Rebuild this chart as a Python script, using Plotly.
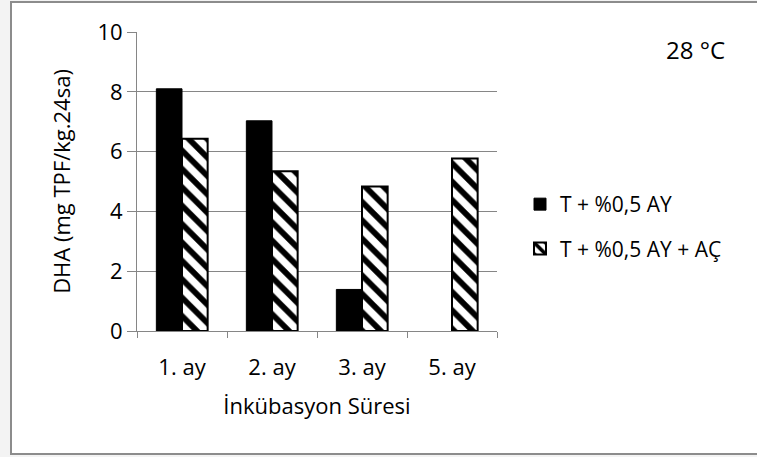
import plotly.graph_objects as go

categories = ["1. ay", "2. ay", "3. ay", "5. ay"]
series1_name = "T + %0,5 AY"
series1_values = [8.1, 7.03, 1.39, None]
series2_name = "T + %0,5 AY + AÇ"
series2_values = [6.43, 5.34, 4.83, 5.77]
y_ticks = [0, 2, 4, 6, 8, 10]

W, H = 757, 457
L, R, T, B = 137, 497, 32, 331
pw, ph = R - L, B - T

def px(x):
    return (x - L) / pw

def py(y):
    return (B - y) / ph

FONT = "Open Sans"
FS = 22

fig = go.Figure()
fig.add_trace(go.Bar(
    x=categories, y=series1_values, name=series1_name, legendgroup="a",
    marker=dict(color="black", line=dict(color="black", width=1)),
))
fig.add_trace(go.Bar(
    x=categories, y=series2_values, name=series2_name, legendgroup="b",
    marker=dict(color="white", line=dict(color="black", width=2),
                pattern=dict(shape="\\", fgcolor="black", bgcolor="white",
                             size=13, solidity=0.45, fillmode="replace")),
))

fig.update_layout(
    width=W, height=H,
    margin=dict(l=L, r=W - R, t=T, b=H - B),
    paper_bgcolor="#f3f3f3", plot_bgcolor="white",
    barmode="group", bargap=0.43, bargroupgap=0.0,
    font=dict(family=FONT, size=FS, color="black"),
    showlegend=True,
    legend=dict(x=px(520), y=py(184), xanchor="left", yanchor="top",
                font=dict(family=FONT, size=FS - 1, color="black"),
                bgcolor="rgba(0,0,0,0)", tracegroupgap=14, itemwidth=30),
    xaxis=dict(
        showline=True, linecolor="#868686", linewidth=1,
        ticks="outside", tickson="boundaries", ticklen=6, tickcolor="#868686",
        showgrid=False, ticklabelstandoff=17,
        title=dict(text="İnkübasyon Süresi", font=dict(family=FONT, size=FS), standoff=18),
        tickfont=dict(family=FONT, size=FS),
    ),
    yaxis=dict(
        range=[0, 10], tickvals=y_ticks,
        showline=True, linecolor="#868686", linewidth=1,
        ticks="outside", ticklen=9, tickcolor="#868686",
        showgrid=True, gridcolor="#868686", gridwidth=1,
        zeroline=False,
        title=dict(text="DHA (mg TPF/kg.24sa)", font=dict(family=FONT, size=FS), standoff=20),
        tickfont=dict(family=FONT, size=FS),
    ),
    shapes=[dict(type="rect", xref="paper", yref="paper",
                 x0=px(11), x1=px(765), y0=py(454), y1=py(2),
                 fillcolor="white",
                 line=dict(color="#8c8c8c", width=2), layer="below")],
    annotations=[dict(text="28 °C", xref="paper", yref="paper",
                      x=px(695), y=py(50), xanchor="center", yanchor="middle",
                      showarrow=False, font=dict(family=FONT, size=24, color="black"))],
)

fig.write_html("out.html", config={"displayModeBar": False},
               post_script="document.body.style.margin='0px';")
